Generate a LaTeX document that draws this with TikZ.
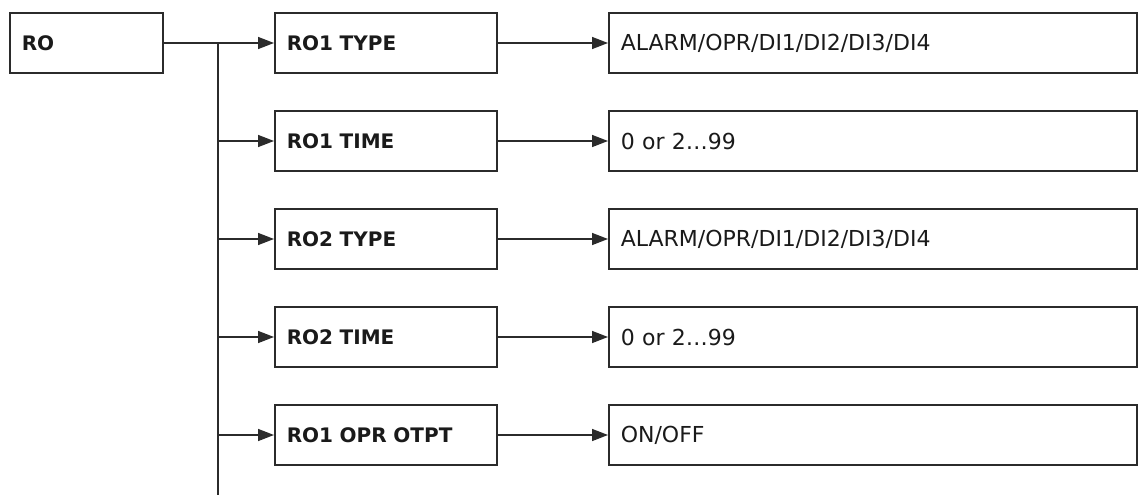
\documentclass[tikz,border=0pt]{standalone}
\usepackage{fontspec}
\setmainfont{DejaVu Sans}
\usetikzlibrary{arrows.meta}
\definecolor{ln}{HTML}{2B2B2B}
\definecolor{tx}{HTML}{1A1A1A}
\tikzset{
  box/.style={draw=ln, line width=1.5pt, minimum height=60pt, inner xsep=12pt, inner ysep=0pt, align=left, text=tx, anchor=west},
  lab/.style={box, text width=198pt, font=\fontsize{20}{24}\selectfont\bfseries},
  val/.style={box, text width=504pt, font=\fontsize{22}{26}\selectfont},
  rootbox/.style={box, text width=129pt, font=\fontsize{20}{24}\selectfont\bfseries},
  conn/.style={draw=ln, line width=1.5pt},
  arr/.style={conn, -{Triangle[length=16pt,width=12pt]}}
}
\begin{document}
\begin{tikzpicture}[x=1pt,y=-1pt]
\useasboundingbox (0,0) rectangle (1143,495);
\node[rootbox] (ro) at (9,43) {RO};
\node[lab] (t1) at (274,43) {RO1 TYPE};
\node[lab] (t2) at (274,141) {RO1 TIME};
\node[lab] (t3) at (274,239) {RO2 TYPE};
\node[lab] (t4) at (274,337) {RO2 TIME};
\node[lab] (t5) at (274,435) {RO1 OPR OTPT};
\node[val] (v1) at (608,43) {ALARM/OPR/DI1/DI2/DI3/DI4};
\node[val] (v2) at (608,141) {0 or 2\dots99};
\node[val] (v3) at (608,239) {ALARM/OPR/DI1/DI2/DI3/DI4};
\node[val] (v4) at (608,337) {0 or 2\dots99};
\node[val] (v5) at (608,435) {ON/OFF};
\coordinate (j) at (218,43);
\coordinate (bot) at (218,495);
\draw[conn] (ro.east) -- (j);
\draw[conn] (j) -- (bot);
\draw[arr] (j) -- (t1.west);
\foreach \n in {t2,t3,t4,t5}{
  \draw[arr] (j|-\n.west) -- (\n.west);
}
\foreach \i in {1,...,5}{
  \draw[arr] (t\i.east) -- (v\i.west);
}
\end{tikzpicture}
\end{document}
